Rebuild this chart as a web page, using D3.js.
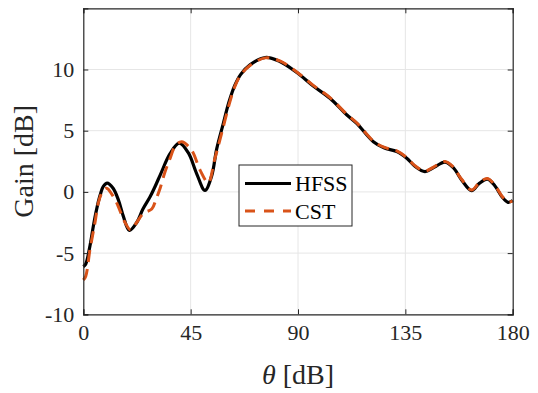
<!DOCTYPE html>
<html>
<head>
<meta charset="utf-8">
<script src="https://cdn.jsdelivr.net/npm/d3@7"></script>
<style>
  body { margin: 0; background: #fff; }
  svg text { font-family: "Liberation Serif", "Times New Roman", Times, "Nimbus Roman", serif; fill: #262626; }
</style>
</head>
<body>
<div id="chart"></div>
<script>
// --- Data (theta in degrees, gain in dB) ---
const hfssTheta = [0, 1, 2.8, 4.2, 5.6, 7, 8.4, 10, 12.5, 14.7, 16.8, 19.3, 22.4, 25, 28, 30, 32.5, 36.3, 40.2, 44, 47.5, 51, 53.8, 55.9, 58.7, 61, 63.5, 66, 70, 76.3, 82.4, 89.5, 96.4, 103.4, 110.4, 114.6, 121.6, 126, 131.4, 135.6, 139, 143.2, 147, 151.6, 155, 158.5, 162.8, 166, 169.4, 172.5, 175.5, 178, 180];
const hfssGain = [-6.1, -5.9, -4.4, -2.8, -1.4, -0.3, 0.45, 0.72, 0.3, -0.65, -2.0, -3.15, -2.5, -1.4, -0.4, 0.4, 1.5, 3.1, 3.98, 3.2, 1.5, 0.12, 1.3, 3.5, 5.6, 7.3, 8.7, 9.6, 10.4, 10.98, 10.65, 9.75, 8.65, 7.65, 6.3, 5.6, 4.1, 3.6, 3.3, 2.75, 2.1, 1.66, 2.0, 2.43, 2.0, 1.0, 0.1, 0.7, 1.04, 0.5, -0.4, -0.85, -0.7];

const cstTheta = [0, 1, 2.8, 4.9, 6.3, 8, 9.8, 12, 14, 17.5, 19.8, 22, 25.2, 28.7, 30.5, 32.2, 34.2, 36.5, 38.4, 41.2, 45.4, 48.9, 52.4, 55, 58, 61.5, 63.5, 66, 70, 76.3, 82.4, 89.5, 96.4, 103.4, 110.4, 114.6, 121.6, 126, 131.4, 135.6, 139, 143.2, 147, 151.6, 155, 158.5, 162.8, 166, 169.4, 172.5, 175.5, 178, 180];
const cstGain = [-7.2, -6.9, -4.7, -2.5, -0.9, 0.0, 0.3, -0.2, -0.9, -2.5, -3.1, -2.6, -1.75, -1.4, -0.6, 0.3, 1.6, 2.8, 3.7, 4.1, 3.4, 1.8, 0.75, 2.6, 4.8, 7.4, 8.6, 9.55, 10.35, 10.95, 10.7, 9.8, 8.7, 7.7, 6.35, 5.65, 4.15, 3.65, 3.35, 2.8, 2.15, 1.7, 2.05, 2.48, 2.05, 1.05, 0.15, 0.75, 1.1, 0.55, -0.35, -0.8, -0.75];

const xTicks = [0, 45, 90, 135, 180];
const yTicks = [-10, -5, 0, 5, 10];
const seriesNames = ["HFSS", "CST"];

// --- Layout ---
const W = 538, H = 393;
const margin = { top: 8.3, right: 25.3, bottom: 78.7, left: 83.3 };
const width = W - margin.left - margin.right,
      height = H - margin.top - margin.bottom;
const serif = "'Liberation Serif', 'Times New Roman', Times, 'Nimbus Roman', serif";

const svg = d3.select("#chart").append("svg")
    .attr("width", W)
    .attr("height", H);

const g = svg.append("g")
    .attr("transform", `translate(${margin.left},${margin.top})`);

const x = d3.scaleLinear().domain([0, 180]).range([0, width]);
const y = d3.scaleLinear().domain([-10, 15]).range([height, 0]);

// Grid
g.append("g").selectAll("line")
    .data(xTicks.slice(1, -1))
    .enter().append("line")
    .attr("x1", d => x(d)).attr("x2", d => x(d))
    .attr("y1", 0).attr("y2", height)
    .attr("stroke", "#e6e6e6").attr("stroke-width", 1);

g.append("g").selectAll("line")
    .data(yTicks.slice(1))
    .enter().append("line")
    .attr("x1", 0).attr("x2", width)
    .attr("y1", d => y(d)).attr("y2", d => y(d))
    .attr("stroke", "#e6e6e6").attr("stroke-width", 1);

// Curves
const line = d3.line()
    .x(d => x(d[0]))
    .y(d => y(d[1]))
    .curve(d3.curveCatmullRom.alpha(0.5));

const hfss = hfssTheta.map((t, i) => [t, hfssGain[i]]);
const cst = cstTheta.map((t, i) => [t, cstGain[i]]);

g.append("path")
    .datum(hfss)
    .attr("fill", "none")
    .attr("stroke", "#000")
    .attr("stroke-width", 3.2)
    .attr("d", line);

g.append("path")
    .datum(cst)
    .attr("fill", "none")
    .attr("stroke", "#D95319")
    .attr("stroke-width", 3)
    .attr("stroke-dasharray", "12,7")
    .attr("d", line);

// Axes (box with inward ticks)
const tickLen = 5;
const axisColor = "#262626";
const fmt = d => String(d);

const xAxis = g.append("g")
    .attr("transform", `translate(0,${height})`)
    .call(d3.axisBottom(x).tickValues(xTicks).tickSize(-tickLen).tickPadding(10).tickFormat(fmt));
const xAxisTop = g.append("g")
    .call(d3.axisTop(x).tickValues(xTicks).tickSize(-tickLen).tickFormat(""));
const yAxis = g.append("g")
    .call(d3.axisLeft(y).tickValues(yTicks).tickSize(-tickLen).tickPadding(9).tickFormat(fmt));
const yAxisRight = g.append("g")
    .attr("transform", `translate(${width},0)`)
    .call(d3.axisRight(y).tickValues(yTicks).tickSize(-tickLen).tickFormat(""));

[xAxis, xAxisTop, yAxis, yAxisRight].forEach(a => {
    a.attr("font-family", null);
    a.select(".domain").attr("stroke", axisColor).attr("stroke-width", 1.2);
    a.selectAll(".tick line").attr("stroke", axisColor).attr("stroke-width", 1);
    a.selectAll("text")
        .style("font-family", serif)
        .style("font-size", "22px")
        .style("fill", axisColor);
});

// Axis labels
const xl = svg.append("text")
    .attr("x", margin.left + width / 2)
    .attr("y", 384)
    .attr("text-anchor", "middle")
    .style("font-family", serif)
    .style("font-size", "28px");
xl.append("tspan").attr("font-style", "italic").text("θ");
xl.append("tspan").text(" [dB]");

svg.append("text")
    .attr("transform", `translate(33,${margin.top + height / 2}) rotate(-90)`)
    .attr("text-anchor", "middle")
    .style("font-family", serif)
    .style("font-size", "28px")
    .text("Gain [dB]");

// Legend
const legend = svg.append("g").attr("transform", "translate(239,165)");
legend.append("rect")
    .attr("width", 113).attr("height", 61)
    .attr("fill", "#fff")
    .attr("stroke", "#262626").attr("stroke-width", 1);

const legendStyles = [
    { stroke: "#000", width: 3.2, dash: null },
    { stroke: "#D95319", width: 3, dash: "10,9" }
];

seriesNames.forEach((name, i) => {
    const row = legend.append("g").attr("transform", `translate(0,${18.5 + i * 27.5})`);
    row.append("line")
        .attr("x1", 6).attr("x2", 52)
        .attr("stroke", legendStyles[i].stroke)
        .attr("stroke-width", legendStyles[i].width)
        .attr("stroke-dasharray", legendStyles[i].dash);
    row.append("text")
        .attr("x", 56)
        .attr("dy", "0.35em")
        .style("font-family", serif)
        .style("font-size", "22px")
        .style("fill", "#000")
        .text(name);
});
</script>
</body>
</html>
